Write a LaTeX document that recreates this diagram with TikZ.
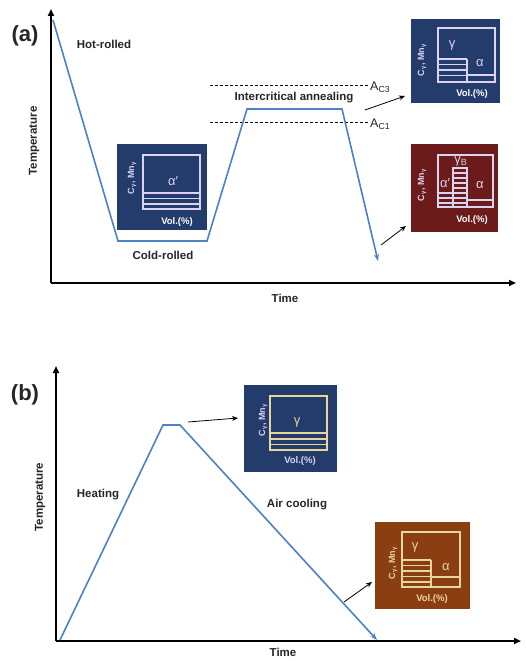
\documentclass[tikz,border=0pt]{standalone}
\usepackage{fontspec}
\setmainfont{Liberation Sans}
\usetikzlibrary{arrows.meta}
\definecolor{navy}{HTML}{243C6C}
\definecolor{wine}{HTML}{6C1B1B}
\definecolor{rust}{HTML}{8A3E12}
\definecolor{lav}{HTML}{DCD2F2}
\definecolor{sand}{HTML}{E8D79A}
\definecolor{curve}{HTML}{4E80C6}
\definecolor{ink}{HTML}{262626}
\begin{document}
\begin{tikzpicture}[x=1pt,y=-1pt,
  lbl/.style={font=\fontsize{11.5}{13}\selectfont\bfseries, text=ink, inner sep=0pt},
  big/.style={font=\fontsize{22}{26}\selectfont\bfseries, text=ink, inner sep=0pt},
  acl/.style={font=\fontsize{12.5}{14}\selectfont, text=ink, inner sep=0pt, anchor=west},
  panel/.style={inner sep=0pt, outer sep=0pt, draw=none, anchor=north west},
  vol/.style={font=\fontsize{9.5}{11}\selectfont\bfseries, inner sep=0pt},
  cmn/.style={font=\fontsize{9}{10}\selectfont\bfseries, inner sep=0pt, rotate=90},
  phase/.style={font=\fontsize{13}{14}\selectfont, inner sep=0pt},
  axisline/.style={line width=2pt, -{Triangle[length=7pt,width=6pt]}},
  hpath/.style={draw=curve, line width=1.6pt, line join=miter},
  ptr/.style={line width=0.8pt, -{Stealth[length=6pt,width=5pt]}},
  crit/.style={line width=0.8pt, dash pattern=on 3pt off 2pt},
  inl/.style={line width=1.2pt}
]
\useasboundingbox (0,0) rectangle (525,661);

% ================= (a) =================
\coordinate (oa) at (51,283);
\coordinate (ya) at (51,9);
\coordinate (xa) at (516,283);
\draw[axisline] (oa) -- (ya);
\draw[axisline] (oa) -- (xa);

\node[big] (la) at (25,36) {(a)};
\node[lbl, rotate=90] (tempa) at (34,141) {Temperature};
\node[lbl] (timea) at (285,298) {Time};
\node[lbl] (hot) at (104,44) {Hot-rolled};
\node[lbl] (cold) at (163,255) {Cold-rolled};
\node[lbl] (inter) at (294,98) {Intercritical annealing};

% critical lines
\node[acl] (ac3) at (370,87) {A\textsubscript{C3}};
\node[acl] (ac1) at (370,124) {A\textsubscript{C1}};
\coordinate (ac3s) at (210,85);
\coordinate (ac1s) at (210,122);
\draw[crit] (ac3s) -- ([xshift=-2pt]ac3s -| ac3.west);
\draw[crit] (ac1s) -- ([xshift=-2pt]ac1s -| ac1.west);

% boxes (a)
\node[panel, fill=navy, minimum width=90pt, minimum height=86pt] (p1) at (117,144) {};
\node[panel, fill=navy, minimum width=89pt, minimum height=84pt] (p2) at (411,19) {};
\node[panel, fill=wine, minimum width=87pt, minimum height=88pt] (p3) at (411,144) {};

% thermal path (a)
\coordinate (a0) at (53,20);
\coordinate (a1) at (118,241);
\coordinate (a2) at (207,241);
\coordinate (a3) at (247,109);
\coordinate (a4) at (342,109);
\coordinate (a5) at (378,261);
\draw[hpath, -{Stealth[length=7pt,width=5pt]}] (a0) -- (a1) -- (a2) -- (a3) -- (a4) -- (a5);

% box 1 content
\draw[lav, inl] (143,155) rectangle (200,209);
\foreach \yy in {193,198.5,204} \draw[lav, inl] (143,\yy) -- (200,\yy);
\node[phase, text=lav] (p1a) at (173,181) {α′};
\node[cmn, text=lav] (p1c) at (132,178) {C\textsubscript{γ}, Mn\textsubscript{γ}};
\node[vol, text=white] (p1v) at (177,222) {Vol.(\%)};

% box 2 content
\draw[lav, inl] (438,28) rectangle (495,82);
\foreach \yy in {59,64.5,70,75.5} \draw[lav, inl] (438,\yy) -- (467,\yy);
\draw[lav, inl] (467,59) -- (467,82);
\draw[lav, inl] (467,75) -- (495,75);
\node[phase, text=lav] (p2g) at (452,45) {γ};
\node[phase, text=lav] (p2a) at (480,63) {α};
\node[cmn, text=lav] (p2c) at (422,60) {C\textsubscript{γ}, Mn\textsubscript{γ}};
\node[vol, text=white] (p2v) at (472,94) {Vol.(\%)};

% box 3 content
\draw[lav, inl] (438,155) rectangle (493,207);
\draw[lav, inl] (453,168) rectangle (467,207);
\foreach \yy in {173,178,183,188,193,198,203} \draw[lav, inl] (453,\yy) -- (467,\yy);
\foreach \yy in {193,198,203} \draw[lav, inl] (438,\yy) -- (453,\yy);
\draw[lav, inl] (467,200) -- (493,200);
\node[phase, text=lav] (p3g) at (461,161) {γ\textsubscript{B}};
\node[phase, text=lav] (p3m) at (445,183) {α′};
\node[phase, text=lav] (p3a) at (480,185) {α};
\node[cmn, text=lav] (p3c) at (422,185) {C\textsubscript{γ}, Mn\textsubscript{γ}};
\node[vol, text=white] (p3v) at (472,220) {Vol.(\%)};

% pointers (a)
\coordinate (s2) at (365,110);
\coordinate (e2) at (405,96);
\draw[ptr] (s2) -- (e2);
\coordinate (s3) at (381,245);
\coordinate (e3) at (406,226);
\draw[ptr] (s3) -- (e3);

% ================= (b) =================
\coordinate (ob) at (56,641);
\coordinate (yb) at (56,366);
\coordinate (xb) at (521,641);
\draw[axisline] (ob) -- (yb);
\draw[axisline] (ob) -- (xb);

\node[big] (lb) at (25,395) {(b)};
\node[lbl, rotate=90] (tempb) at (40,497) {Temperature};
\node[lbl] (timeb) at (283,652) {Time};
\node[lbl] (heat) at (98,495) {Heating};
\node[lbl] (air) at (297,505) {Air cooling};

\node[panel, fill=navy, minimum width=93pt, minimum height=87pt] (p4) at (244,385) {};
\node[panel, fill=rust, minimum width=95pt, minimum height=87pt] (p5) at (375,522) {};

\coordinate (b0) at (60,640);
\coordinate (b1) at (163,425);
\coordinate (b2) at (180,425);
\coordinate (b3) at (377,640);
\draw[hpath, -{Stealth[length=7pt,width=5pt]}] (b0) -- (b1) -- (b2) -- (b3);

% box 4 content
\draw[sand, inl] (270,396) rectangle (327,450);
\foreach \yy in {433,439,444.5} \draw[sand, inl] (270,\yy) -- (327,\yy);
\node[phase, text=sand] (p4g) at (297,422) {γ};
\node[cmn, text=lav] (p4c) at (263,420) {C\textsubscript{γ}, Mn\textsubscript{γ}};
\node[vol, text=lav] (p4v) at (300,461) {Vol.(\%)};

% box 5 content
\draw[sand, inl] (402,532) rectangle (460,587);
\foreach \yy in {560,565.5,571,576.5,582} \draw[sand, inl] (402,\yy) -- (431,\yy);
\draw[sand, inl] (431,560) -- (431,587);
\draw[sand, inl] (431,577) -- (460,577);
\node[phase, text=sand] (p5g) at (415,547) {γ};
\node[phase, text=sand] (p5a) at (446,567) {α};
\node[cmn, text=sand] (p5c) at (393,563) {C\textsubscript{γ}, Mn\textsubscript{γ}};
\node[vol, text=sand] (p5v) at (432,599) {Vol.(\%)};

% pointers (b)
\coordinate (s4) at (188,422);
\coordinate (e4) at (238,418);
\draw[ptr] (s4) -- (e4);
\coordinate (s5) at (344,602);
\coordinate (e5) at (372,582);
\draw[ptr] (s5) -- (e5);
\end{tikzpicture}
\end{document}
